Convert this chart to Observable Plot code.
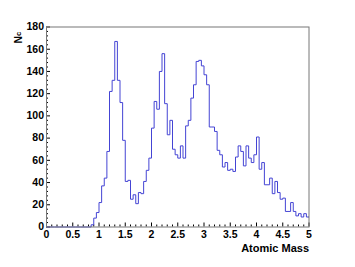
<!DOCTYPE html>
<html><head><meta charset="utf-8">
<script src="https://cdn.jsdelivr.net/npm/d3@7"></script>
<script src="https://cdn.jsdelivr.net/npm/@observablehq/plot@0.6"></script>
<style>html,body{margin:0;padding:0;background:#fff;overflow:hidden}</style>
</head><body><div id="chart"></div>
<script>
// Histogram binning (100 bins from 0 to 5)
const binLow = 0;
const binWidth = 0.05;
// Bin contents
const counts = [
  0,0,0,0,0,0,0,0,0,0,
  0,0,0,0,0,0,0,2,8,13,
  22,37,44,68,122,132,167,132,112,78,
  41,42,25,29,21,31,30,41,51,62,
  89,113,106,140,156,111,83,96,70,65,
  62,73,62,91,96,116,128,149,150,145,
  137,128,90,90,86,69,65,54,58,51,
  52,50,63,73,68,55,73,62,58,65,
  81,52,58,38,38,44,30,41,31,25,
  26,14,14,22,14,10,12,9,12,9
];
const xMajorTicks = [0,0.5,1,1.5,2,2.5,3,3.5,4,4.5,5];
const xTickLabels = ["0","0.5","1","1.5","2","2.5","3","3.5","4","4.5","5"];
const xMinorTicks = [0.1,0.2,0.3,0.4,0.6,0.7,0.8,0.9,1.1,1.2,1.3,1.4,1.6,1.7,1.8,1.9,2.1,2.2,2.3,2.4,2.6,2.7,2.8,2.9,3.1,3.2,3.3,3.4,3.6,3.7,3.8,3.9,4.1,4.2,4.3,4.4,4.6,4.7,4.8,4.9];
const yMajorTicks = [0,20,40,60,80,100,120,140,160,180];
const yTickLabels = ["0","20","40","60","80","100","120","140","160","180"];
const yMinorTicks = [4,8,12,16,24,28,32,36,44,48,52,56,64,68,72,76,84,88,92,96,104,108,112,116,124,128,132,136,144,148,152,156,164,168,172,176];
const xTitle = "Atomic Mass";
const yTitle = "N";
const yTitleSub = "c";

const steps = counts.map((c, i) => ({x: binLow + i * binWidth, y: c}));
steps.push({x: binLow + counts.length * binWidth, y: counts[counts.length - 1]});

const W = 355, H = 267, mL = 46, mR = 46.5, mT = 26.5, mB = 40.5;
const innerW = W - mL - mR, innerH = H - mT - mB;
const font = "'Liberation Sans', Arial, Helvetica, sans-serif";

const chart = Plot.plot({
  width: W, height: H,
  marginLeft: mL, marginRight: mR, marginTop: mT, marginBottom: mB,
  style: {fontFamily: font, fontSize: "10.5px", fontWeight: "bold", background: "#fff", color: "#000"},
  x: {domain: [0, 5], ticks: xMajorTicks, tickFormat: d => xTickLabels[xMajorTicks.indexOf(d)], tickSize: 0, tickPadding: 3.5, label: null},
  y: {domain: [0, 180], ticks: yMajorTicks, tickFormat: d => yTickLabels[yMajorTicks.indexOf(d)], tickSize: 0, tickPadding: 2.5, label: null},
  marks: [
    Plot.ruleX(xMinorTicks, {x: d => d, insetTop: innerH - 2, stroke: "#000"}),
    Plot.ruleX(xMajorTicks, {x: d => d, insetTop: innerH - 4, stroke: "#000"}),
    Plot.ruleY(yMinorTicks, {y: d => d, insetRight: innerW - 2, stroke: "#000"}),
    Plot.ruleY(yMajorTicks, {y: d => d, insetRight: innerW - 4, stroke: "#000"}),
    Plot.line(steps, {x: "x", y: "y", curve: "step-after", stroke: "#4444d4", strokeWidth: 1}),
    Plot.frame({stroke: "#777"}),
    Plot.text([xTitle], {frameAnchor: "bottom-right", dy: 24.5, textAnchor: "end", fontSize: 11, fontWeight: "bold"}),
    Plot.text([yTitle], {frameAnchor: "top-left", rotate: -90, dx: -32.4, dy: 9, textAnchor: "end", fontSize: 10.5, fontWeight: "bold"}),
    Plot.text([yTitleSub], {frameAnchor: "top-left", rotate: -90, dx: -30.4, dy: 4.8, textAnchor: "end", fontSize: 7.5, fontWeight: "bold"})
  ]
});
document.getElementById("chart").appendChild(chart);
</script>
</body></html>
